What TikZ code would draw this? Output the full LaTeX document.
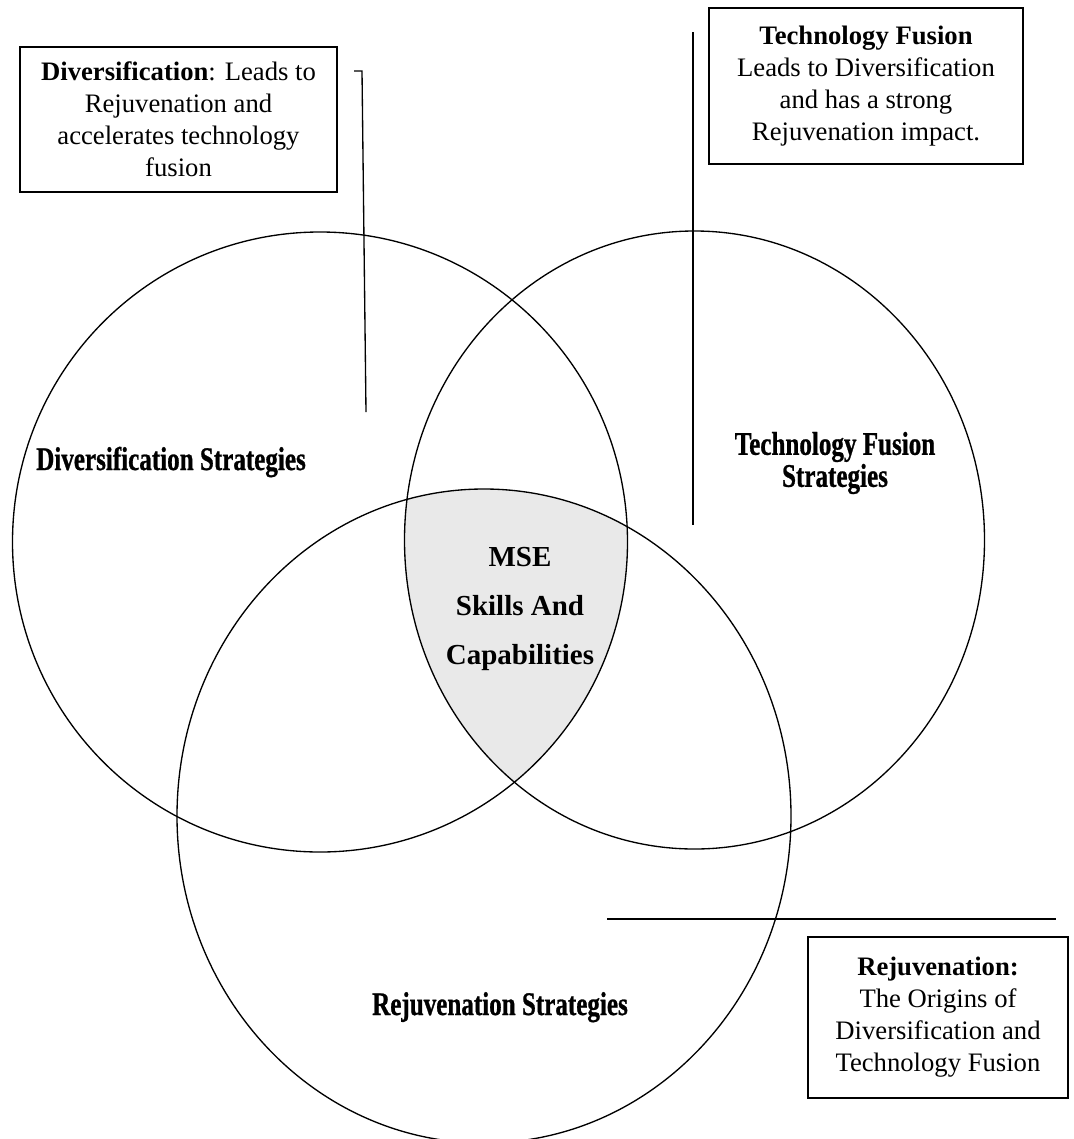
\documentclass[tikz,border=0pt]{standalone}
\usepackage{fontspec}
\setmainfont{Liberation Serif}
\newfontfamily\venncond[FakeStretch=0.76,FakeBold=0.8]{Liberation Serif}
\definecolor{corefill}{RGB}{233,233,233}
\tikzset{
  venn/.style={line width=1pt},
  leader/.style={line width=1pt},
  notebox/.style={draw, line width=1.2pt, align=center, inner sep=0pt,
    font=\fontsize{20}{24}\selectfont},
  setlabel/.style={align=center, inner sep=0pt,
    font=\venncond\bfseries\fontsize{24.75}{24}\selectfont},
  corelabel/.style={align=center, inner sep=0pt,
    font=\bfseries\fontsize{21.75}{36.4}\selectfont}
}
\begin{document}
\begin{tikzpicture}[x=0.75pt, y=-0.75pt]
\useasboundingbox (0,0) rectangle (1074,1139);

% centres of the three sets
\coordinate (cD) at (320,542);
\coordinate (cT) at (694.5,540);
\coordinate (cR) at (484,816);

% shared core of all three sets
\begin{scope}
  \clip (cD) ellipse [x radius=307.5, y radius=310];
  \clip (cT) ellipse [x radius=290, y radius=309];
  \fill[corefill] (cR) ellipse [x radius=307, y radius=327];
\end{scope}

% the three sets
\draw[venn] (cD) ellipse [x radius=307.5, y radius=310];
\draw[venn] (cT) ellipse [x radius=290, y radius=309];
\draw[venn] (cR) ellipse [x radius=307, y radius=327];

% set labels
\node[setlabel, anchor=base] (labD) at (171,470) {Diversification Strategies};
\node[setlabel] (labT) at (835,463) {Technology Fusion\\Strategies};
\node[setlabel, anchor=base] (labR) at (500,1015) {Rejuvenation Strategies};
\node[corelabel] (core) at (520,609) {MSE\\Skills And\\Capabilities};

% note boxes
\node[notebox, minimum width=237.75pt, minimum height=108.75pt] (noteD) at (178.5,119.5)
  {\textbf{Diversification}: Leads to\\Rejuvenation and\\accelerates technology\\fusion};
\node[notebox, minimum width=235.5pt, minimum height=117pt] (noteT) at (866,86)
  {\textbf{Technology Fusion}\\Leads to Diversification\\and has a strong\\Rejuvenation impact.};
\node[notebox, minimum width=195pt, minimum height=120.75pt] (noteR) at (938,1017.5)
  {\raisebox{4pt}{\begin{tabular}{@{}c@{}}\textbf{Rejuvenation:}\\The Origins of\\Diversification and\\Technology Fusion\end{tabular}}};

% leader lines
\coordinate (ldA) at (354,71);
\coordinate (ldB) at (362,71);
\coordinate (ldC) at (366,412);
\draw[leader] (ldA) -- (ldB) -- (ldC);

\coordinate (ltA) at (693,32);
\coordinate (ltB) at (693,525);
\draw[leader] (ltA) -- (ltB);

\coordinate (lrA) at (607,919);
\coordinate (lrB) at (1056,919);
\draw[leader] (lrA) -- (lrB);
\end{tikzpicture}
\end{document}
